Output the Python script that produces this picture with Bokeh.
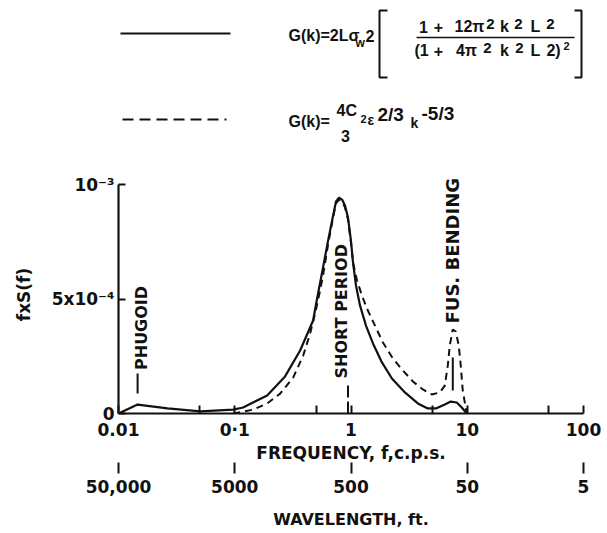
import numpy as np
from bokeh.plotting import figure
from bokeh.models import Range1d, LogAxis, FixedTicker, Label
from bokeh.layouts import column
from bokeh.embed import file_html
from bokeh.resources import INLINE

# ---------------- data ----------------
freq_solid = [0.0100, 0.0146, 0.0264, 0.0506, 0.0970, 0.118, 0.190, 0.271, 0.365, 0.472,
              0.511, 0.564, 0.635, 0.702, 0.743, 0.789, 0.837, 0.888, 0.942, 0.999,
              1.041, 1.104, 1.195, 1.345, 1.545, 1.846, 2.249, 2.909, 3.758, 4.581,
              5.370, 6.410, 7.218, 8.120, 8.972, 9.90]
fxs_solid_e3 = [0.000, 0.039, 0.022, 0.009, 0.017, 0.026, 0.079, 0.162, 0.275, 0.406,
                0.502, 0.616, 0.755, 0.865, 0.926, 0.943, 0.934, 0.908, 0.856, 0.755,
                0.659, 0.559, 0.472, 0.384, 0.306, 0.223, 0.153, 0.092, 0.044, 0.022,
                0.022, 0.039, 0.052, 0.048, 0.026, 0.000]

freq_dash = [0.0970, 0.144, 0.190, 0.246, 0.318, 0.388, 0.445, 0.491, 0.531, 0.575,
             0.635, 0.702, 0.743, 0.789, 0.837, 0.888, 0.942, 0.999, 1.041, 1.126,
             1.243, 1.371, 1.607, 1.882, 2.294, 2.793, 3.406, 4.150, 4.955, 5.808,
             6.410, 6.804, 7.075, 7.509, 7.962, 8.449, 8.790, 9.149, 9.90]
fxs_dash_e3 = [0.000, 0.017, 0.044, 0.087, 0.157, 0.253, 0.349, 0.437, 0.515, 0.603,
               0.738, 0.858, 0.917, 0.934, 0.926, 0.900, 0.847, 0.747, 0.659, 0.581,
               0.515, 0.459, 0.384, 0.310, 0.240, 0.188, 0.140, 0.105, 0.083, 0.092,
               0.122, 0.210, 0.297, 0.367, 0.358, 0.297, 0.210, 0.100, 0.000]

freq_ticks = [0.01, 0.1, 1, 10, 100]
freq_tick_labels = ["0.01", "0\u00b71", "1", "10", "100"]
freq_minor_ticks = [0.05, 0.5, 5, 50]
wavelength_labels = ["50,000", "5000", "500", "50", "5"]
y_ticks = [0, 0.0005, 0.001]
y_tick_labels = ["0", "5x10\u207b\u2074", "10\u207b\u00b3"]

# resonance markers: label, frequency, bar bottom/top (x1e-3), label start (x1e-3)
marker_names = ["PHUGOID", "SHORT PERIOD", "FUS. BENDING"]
marker_freq = [0.0146, 0.942, 7.51]
marker_bar_lo_e3 = [0.087, 0.000, 0.100]
marker_bar_hi_e3 = [0.175, 0.130, 0.245]
marker_label_freq = [0.0158, 0.824, 7.51]
marker_label_y_e3 = [0.190, 0.153, 0.393]

FONT = "DejaVu Sans"
FFONT = "Liberation Sans"
BLACK = "#111111"

# ---------------- legend / formula panel ----------------
# the column aligns this panel's frame with the chart frame (page x 118..583)
H1 = 158
top = figure(width=607, height=H1, x_range=Range1d(118, 583), y_range=Range1d(H1, 0),
             x_axis_location=None, y_axis_location=None, toolbar_location=None,
             output_backend="svg", min_border_left=118, min_border_right=24,
             min_border_top=0, min_border_bottom=0, outline_line_color=None)
top.grid.visible = False

top.line([120, 230], [33, 33], line_color=BLACK, line_width=2.2)
top.line([122, 226], [119, 119], line_color=BLACK, line_width=2.2, line_dash="11 6")


def lab(fig, x, y, s, size=16, align="left", baseline="middle", angle=0, font=FFONT):
    fig.add_layout(Label(x=x, y=y, text=s, text_font=font, text_font_size=f"{size}px",
                         text_font_style="bold", text_color=BLACK, text_align=align,
                         text_baseline=baseline, angle=angle))


# formula 1
lab(top, 288, 35, "G(k)=2L\u03c3")
lab(top, 355, 42, "w", 12)
lab(top, 365, 35, "2")
top.line([387, 379, 379, 387], [10, 10, 77, 77], line_color=BLACK, line_width=2)
top.line([574, 581, 581, 574], [10, 10, 77, 77], line_color=BLACK, line_width=2)
top.line([416, 574], [37, 37], line_color=BLACK, line_width=1.5)
for s, x, y, sz in [("1", 423, 26, 16), ("+", 438, 26, 16), ("12\u03c0", 469, 26, 16),
                    ("2", 490, 23, 15), ("k", 504, 26, 16), ("2", 518, 23, 15),
                    ("L", 535, 26, 16), ("2", 550, 23, 15)]:
    lab(top, x, y, s, sz, align="center")
for s, x, y, sz in [("(1", 421, 50, 16), ("+", 438, 50, 16), ("4\u03c0", 466, 50, 16),
                    ("2", 487, 47, 15), ("k", 504, 50, 16), ("2", 519, 47, 15),
                    ("L", 535, 50, 16), ("2)", 553, 50, 16), ("2", 566, 45, 11)]:
    lab(top, x, y, s, sz, align="center")

# formula 2
lab(top, 288, 121, "G(k)=")
lab(top, 336, 110, "4C")
lab(top, 345, 135, "3", align="center")
lab(top, 360, 118, "2", 11)
lab(top, 367, 119, "\u03b5", 14)
lab(top, 377, 114, "2/3", 19)
lab(top, 410, 122, "k", 14)
lab(top, 421, 113, "-5/3", 19)

# ---------------- main chart ----------------
Y_TOP = 238 / 229 * 1e-3  # a little headroom above 10^-3 for the rotated label
p = figure(x_axis_type="log", x_range=Range1d(0.01, 100), y_range=Range1d(0, Y_TOP),
           frame_width=465, frame_height=238, min_border_left=118, min_border_right=24,
           min_border_top=17, min_border_bottom=0, toolbar_location=None,
           output_backend="svg", outline_line_color=None)
p.grid.visible = False

ys = np.array(fxs_solid_e3) * 1e-3
yd = np.array(fxs_dash_e3) * 1e-3
p.line(freq_dash, yd, line_color=BLACK, line_width=2, line_dash="7 5")
p.line(freq_solid, ys, line_color=BLACK, line_width=2.2)

# marker bars
solid_idx = [0, 2]
p.segment(x0=[marker_freq[i] for i in solid_idx],
          y0=[marker_bar_lo_e3[i] * 1e-3 for i in solid_idx],
          x1=[marker_freq[i] for i in solid_idx],
          y1=[marker_bar_hi_e3[i] * 1e-3 for i in solid_idx],
          line_color=BLACK, line_width=2)
p.segment(x0=[marker_freq[1]], y0=[marker_bar_lo_e3[1] * 1e-3], x1=[marker_freq[1]],
          y1=[marker_bar_hi_e3[1] * 1e-3], line_color=BLACK, line_width=2, line_dash="12 4")
for name, fx, fy, sz in zip(marker_names, marker_label_freq, marker_label_y_e3, [16, 16, 18]):
    p.add_layout(Label(x=fx, y=fy * 1e-3, text=name, angle=np.pi / 2, text_font=FONT,
                       text_font_size=f"{sz}px", text_font_style="bold", text_color=BLACK,
                       text_align="left", text_baseline="middle"))

# frequency axis
xa = p.xaxis[0]
all_fticks = sorted(freq_ticks + freq_minor_ticks)
xa.ticker = FixedTicker(ticks=all_fticks)
ov = {t: "" for t in freq_minor_ticks}
ov.update(dict(zip(freq_ticks, freq_tick_labels)))
xa.major_label_overrides = ov
xa.axis_label = "FREQUENCY, f,c.p.s."
xa.minor_tick_line_color = None
xa.major_tick_in = 8
xa.major_tick_out = 0
xa.major_tick_line_width = 2
xa.axis_line_width = 2.2
xa.axis_line_color = BLACK
xa.major_tick_line_color = BLACK
xa.major_label_standoff = 6
xa.axis_label_standoff = 0

# wavelength axis
wa = LogAxis(ticker=FixedTicker(ticks=freq_ticks),
             major_label_overrides=dict(zip(freq_ticks, wavelength_labels)),
             axis_label="WAVELENGTH, ft.")
wa.axis_line_alpha = 0
wa.minor_tick_line_color = None
wa.major_tick_in = 3
wa.major_tick_out = 8
wa.major_tick_line_width = 2
wa.major_tick_line_color = BLACK
wa.major_label_standoff = 6
wa.axis_label_standoff = 14
p.add_layout(wa, "below")

# y axis
ya = p.yaxis[0]
ya.bounds = (0, 1e-3)
ya.ticker = FixedTicker(ticks=y_ticks)
ya.major_label_overrides = dict(zip(y_ticks, y_tick_labels))
ya.axis_label = "fxS(f)"
ya.minor_tick_line_color = None
ya.major_tick_in = 7
ya.major_tick_out = 0
ya.major_tick_line_width = 2
ya.axis_line_width = 2.2
ya.axis_line_color = BLACK
ya.major_tick_line_color = BLACK
ya.major_label_standoff = 4
ya.axis_label_standoff = 15
ya.major_label_orientation = "horizontal"

for a in [xa, wa, ya]:
    a.major_label_text_font = FONT
    a.major_label_text_font_size = "17px"
    a.major_label_text_font_style = "bold"
    a.major_label_text_color = BLACK
    a.axis_label_text_font = FONT
    a.axis_label_text_font_size = "17px"
    a.axis_label_text_font_style = "bold"
    a.axis_label_text_color = BLACK
wa.axis_label_text_font_size = "16px"

layout = column(top, p, spacing=0)
open("out.html", "w").write(file_html(layout, INLINE))
